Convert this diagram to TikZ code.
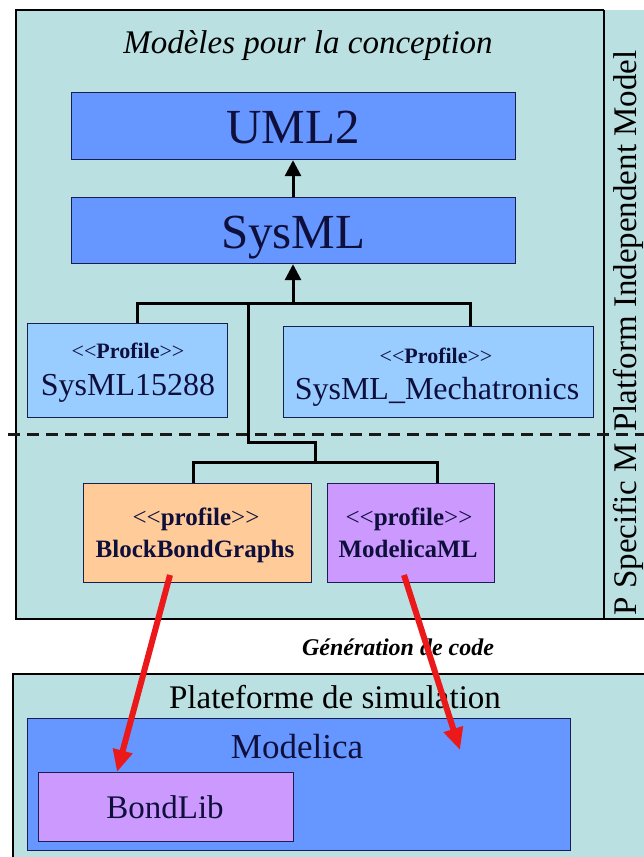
\documentclass[tikz,border=0pt]{standalone}
\usepackage{fontspec}
\setmainfont{Liberation Serif}
\usetikzlibrary{arrows.meta}
\definecolor{panel}{RGB}{186,224,226}
\definecolor{bluebox}{RGB}{102,150,255}
\definecolor{lightblue}{RGB}{153,204,255}
\definecolor{orangebox}{RGB}{255,204,153}
\definecolor{purplebox}{RGB}{204,153,255}
\definecolor{navy}{RGB}{25,30,80}
\definecolor{txt}{RGB}{15,15,60}
\definecolor{redarrow}{RGB}{235,25,25}
\newcommand{\ltlt}{<\kern0pt<}
\newcommand{\gtgt}{>\kern0pt>}
\begin{document}
\begin{tikzpicture}[x=1pt,y=-1pt,
  box/.style={draw=navy, line width=1.2pt, inner sep=0pt, anchor=north west},
  conn/.style={line width=3pt, black},
  gen/.style={line width=3pt, -{Triangle[length=16pt,width=16pt]}},
  codegen/.style={redarrow, line width=6pt, -{Triangle[length=22pt,width=19pt]}},
  lbl/.style={anchor=base, inner sep=0pt, text=txt},
  blk/.style={anchor=base, inner sep=0pt, text=black},
]
\useasboundingbox (0,0) rectangle (644,857);
% top panel
\fill[panel] (16,10) rectangle (650,619);
\draw[line width=1.2pt] (604,10) -- (16,10) -- (16,619) -- (650,619);
\draw[line width=1.5pt] (604,10) -- (604,619);
% bottom panel
\fill[panel] (13,674) rectangle (650,870);
\draw[line width=1.2pt] (650,674) -- (13,674) -- (13,870);
% dashed separation
\draw[line width=3pt, dash pattern=on 12pt off 7pt, black!90] (8,434) -- (644,434);

% title
\node[blk] (title) at (308,53) {\fontsize{33}{33}\selectfont\itshape Modèles pour la conception};

% boxes
\node[box, fill=bluebox, minimum width=444pt, minimum height=67pt] (uml) at (70.6,92) {};
\node[lbl] (umlt) at (uml.center |- 0,143) {\fontsize{49}{49}\selectfont UML2};
\node[box, fill=bluebox, minimum width=444pt, minimum height=66pt] (sysml) at (70.6,197) {};
\node[lbl] (sysmlt) at (sysml.center |- 0,248) {\fontsize{49}{49}\selectfont SysML};

\node[box, fill=lightblue, minimum width=200pt, minimum height=94pt] (s15288) at (27,323) {};
\node[lbl] (s15288a) at (128,358) {\fontsize{22}{22}\selectfont\ltlt\textbf{Profile}\gtgt};
\node[lbl] (s15288b) at (128,395) {\fontsize{32}{32}\selectfont SysML15288};

\node[box, fill=lightblue, minimum width=310pt, minimum height=91pt] (mecha) at (282.5,326) {};
\node[lbl] (mechaa) at (436,363) {\fontsize{22}{22}\selectfont\ltlt\textbf{Profile}\gtgt};
\node[lbl] (mechab) at (437,399) {\fontsize{32}{32}\selectfont SysML\_Mechatronics};

\node[box, fill=orangebox, minimum width=228pt, minimum height=99pt] (bbg) at (83,483) {};
\node[lbl] (bbga) at (196,525) {\fontsize{25}{25}\selectfont\ltlt\textbf{profile}\gtgt};
\node[lbl] (bbgb) at (195,557) {\fontsize{25}{25}\selectfont\textbf{BlockBondGraphs}};

\node[box, fill=purplebox, minimum width=167pt, minimum height=99pt] (mml) at (326.5,483) {};
\node[lbl] (mmla) at (409,525) {\fontsize{25}{25}\selectfont\ltlt\textbf{profile}\gtgt};
\node[lbl] (mmlb) at (408,557) {\fontsize{25}{25}\selectfont\textbf{ModelicaML}};

% side labels
\node[anchor=base, inner sep=0pt, rotate=90] (pim) at (636,241) {\fontsize{33}{33}\selectfont Platform Independent Model};
\node[anchor=base, inner sep=0pt, rotate=90] (psm) at (636,529) {\fontsize{33}{33}\selectfont P Specific M};

% connectors
\coordinate (j1) at (293,303);
\coordinate (j2) at (248.5,303);
\coordinate (j3) at (315,462);
\draw[gen] (sysml.north -| j1) -- (uml.south -| j1);
\draw[gen] (j1) -- (sysml.south -| j1);
\draw[conn] (s15288.north -| 137.6,0) -- (137.6,303) -- (470.6,303) -- (mecha.north -| 470.6,0);
\draw[conn] (j2) -- (248.5,442) -| (j3);
\draw[conn] (bbg.north -| 193,0) -- (193,462) -- (437,462) -- (mml.north -| 437,0);

% generation label
\node[blk] (genl) at (398,655) {\fontsize{24}{24}\selectfont\bfseries\itshape Génération de code};

% bottom content
\node[blk] (plat) at (335,708) {\fontsize{33}{33}\selectfont Plateforme de simulation};
\node[box, fill=bluebox, minimum width=543pt, minimum height=132pt] (modelica) at (27,718) {};
\node[lbl] (modelicat) at (297,758) {\fontsize{35}{35}\selectfont Modelica};
\node[box, fill=purplebox, minimum width=255pt, minimum height=69pt] (bondlib) at (38,772) {};
\node[lbl] (bondlibt) at (165,818) {\fontsize{33}{33}\selectfont BondLib};

% code generation arrows
\coordinate (m1) at (460,750);
\draw[codegen] (170,575) -- (bondlib.north -| 117,0);
\draw[codegen] (404,575) -- (m1);
\end{tikzpicture}
\end{document}
